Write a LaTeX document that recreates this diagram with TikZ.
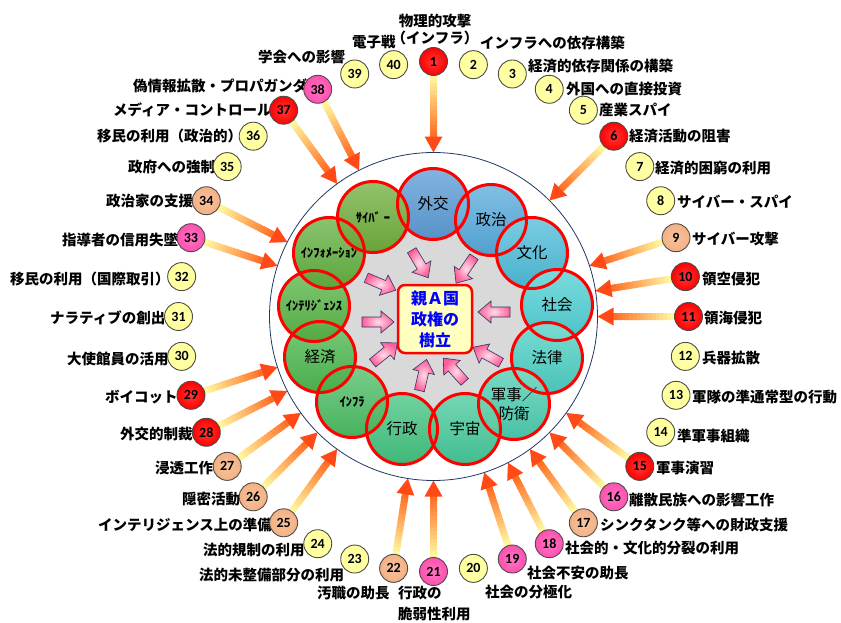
\documentclass[tikz,border=0pt]{standalone}
\usepackage{fontspec}
\setmainfont{Noto Sans CJK JP}
\newfontfamily\numfont{Carlito}
\usetikzlibrary{calc,backgrounds}
\definecolor{navyline}{HTML}{1F3864}
\definecolor{bred}{HTML}{FF0000}
\definecolor{bpink}{HTML}{FF4FB0}
\definecolor{bpeach}{HTML}{F4B183}
\definecolor{byel}{HTML}{FFFF99}
\definecolor{arrY}{HTML}{FFF7A0}
\definecolor{arrO}{HTML}{FF7026}
\definecolor{arrR}{HTML}{FF4A18}
\definecolor{graybg}{HTML}{D9D9D9}
\definecolor{boxfill}{HTML}{FFFFC0}
\definecolor{pinkL}{HTML}{FFDDEA}
\definecolor{pinkD}{HTML}{FF5C98}
\definecolor{pinkline}{HTML}{2E3560}
\definecolor{c0}{HTML}{5B9BD5}
\definecolor{c1}{HTML}{56AADC}
\definecolor{c2}{HTML}{4DBCD8}
\definecolor{c3}{HTML}{4FCFD3}
\definecolor{c4}{HTML}{4DD0C4}
\definecolor{c5}{HTML}{4CCDB0}
\definecolor{c6}{HTML}{46C99A}
\definecolor{c7}{HTML}{43C380}
\definecolor{c8}{HTML}{4CBD63}
\definecolor{c9}{HTML}{4EB84F}
\definecolor{c10}{HTML}{58B546}
\definecolor{c11}{HTML}{62B040}
\definecolor{c12}{HTML}{6FAE3C}
\begin{document}
\begin{tikzpicture}[x=1pt,y=-1pt,
  ballnode/.style={circle, minimum size=28pt, inner sep=0pt, draw=black!70, line width=0.9pt,
    inner color=#1!78!white, outer color=#1, font=\numfont\bfseries\fontsize{14}{14}\selectfont},
  lab/.style={inner sep=0pt, anchor=west, font=\bfseries\fontsize{14.5}{17}\selectfont},
  domcirc/.style={circle, minimum size=71pt, inner sep=0pt, align=center,
    font=\fontsize{15.5}{19}\selectfont},
  pinkarrow/.style={draw=pinkline, line width=0.6pt, inner color=pinkL, outer color=pinkD},
  ringline/.style={red, line width=3pt}
]
\useasboundingbox (0,0) rectangle (841,623);
\coordinate (c) at (433.5,316.5);
\node[circle, draw=navyline, line width=0.8pt, minimum size=328pt, inner sep=0pt] (ring) at (c) {};
\fill[graybg] (433,316) circle[radius=110];

% domain circles
\foreach \j/\x/\y/\txt in {0/433/204/{外交},1/491/220/{政治},2/532/253/{文化},3/557/305/{社会},
  4/547/358/{法律},5/514/404/{軍事／\\防衛},6/465/429/{宇宙},7/402/429/{行政},
  8/352/402/{\bfseries\fontsize{12.5}{13}\selectfont ｲﾝﾌﾗ},9/320/357/{経済},
  10/314/306/{\bfseries\fontsize{12.5}{13}\selectfont ｲﾝﾃﾘｼﾞｪﾝｽ},
  11/329/253/{\bfseries\fontsize{12.5}{13}\selectfont ｲﾝﾌｫﾒｰｼｮﾝ},
  12/373/217/{\bfseries\fontsize{12.5}{13}\selectfont ｻｲﾊﾞ ｰ}}
  \node[domcirc, top color=c\j!75!white, bottom color=c\j!94!black] (d\j) at (\x,\y) {\txt};
\foreach \j in {0,...,12}
  \draw[ringline] (d\j.center) circle[radius=35.5];

% pink block arrows towards the goal
\foreach \x/\y/\r in {420/264/-59, 465/270/-124, 381/284/-23, 378/322/0,
  385/353/39, 423/375/77, 454/370/132, 494/312/180, 487/355/151}
  \shade[pinkarrow, shift={(\x,\y)}, rotate=\r]
    (-16,-5) -- (3,-5) -- (3,-11) -- (16,0) -- (3,11) -- (3,5) -- (-16,5) -- cycle;

\node[draw=red, line width=2.5pt, fill=boxfill, rounded corners=7pt, minimum width=74pt,
  minimum height=68pt, inner sep=0pt, align=center, text=blue,
  font=\bfseries\fontsize{16}{21}\selectfont] (goal) at (435,319) {親Ａ国\\政権の\\樹立};

% labels
\node[lab, anchor=center, align=center] (l1) at (435,30) {物理的攻撃\\（インフラ）};
\node[lab] (l2) at (480,43) {インフラへの依存構築};
\node[lab] (l3) at (528,66) {経済的依存関係の構築};
\node[lab] (l4) at (566,89) {外国への直接投資};
\node[lab] (l5) at (599,110) {産業スパイ};
\node[lab] (l6) at (629,136) {経済活動の阻害};
\node[lab] (l7) at (655,168) {経済的困窮の利用};
\node[lab] (l8) at (677,202) {サイバー・スパイ};
\node[lab] (l9) at (692,239) {サイバー攻撃};
\node[lab] (l10) at (702,279) {領空侵犯};
\node[lab] (l11) at (704,318) {領海侵犯};
\node[lab] (l12) at (702,358) {兵器拡散};
\node[lab] (l13) at (692,397) {軍隊の準通常型の行動};
\node[lab] (l14) at (677,436) {準軍事組織};
\node[lab] (l15) at (656,468) {軍事演習};
\node[lab] (l16) at (629,500) {離散民族への影響工作};
\node[lab] (l17) at (600,525) {シンクタンク等への財政支援};
\node[lab] (l18) at (565,548) {社会的・文化的分裂の利用};
\node[lab] (l19) at (527,573) {社会不安の助長};
\node[lab] (l20) at (485,592) {社会の分極化};
\node[lab, anchor=north west, align=left, font=\bfseries\fontsize{14.5}{21}\selectfont] (l21) at (398,586) {行政の\\脆弱性利用};
\node[lab] (l22) at (317,593) {汚職の助長};
\node[lab] (l23) at (199,575) {法的未整備部分の利用};
\node[lab] (l24) at (203,550) {法的規制の利用};
\node[lab] (l25) at (98,525) {インテリジェンス上の準備};
\node[lab] (l26) at (182,499) {隠密活動};
\node[lab] (l27) at (155,468) {浸透工作};
\node[lab] (l28) at (120,434) {外交的制裁};
\node[lab] (l29) at (105,397) {ボイコット};
\node[lab] (l30) at (67,359) {大使館員の活用};
\node[lab] (l31) at (50,318) {ナラティブの創出};
\node[lab] (l32) at (10,279) {移民の利用（国際取引）};
\node[lab] (l33) at (62,240) {指導者の信用失墜};
\node[lab] (l34) at (106,201) {政治家の支援};
\node[lab] (l35) at (128,167) {政府への強制};
\node[lab] (l36) at (97,136) {移民の利用（政治的）};
\node[lab] (l37) at (113,110) {メディア・コントロール};
\node[lab] (l38) at (133,86) {偽情報拡散・プロパガンダ};
\node[lab] (l39) at (258,57) {学会への影響};
\node[lab] (l40) at (352,42) {電子戦};

% numbered balls
\foreach \k/\col in {1/bred,2/byel,3/byel,4/byel,5/byel,6/bred,7/byel,8/byel,9/bpeach,10/bred,
  11/bred,12/byel,13/byel,14/byel,15/bred,16/bpink,17/bpeach,18/bpink,19/bpink,20/byel,
  21/bpink,22/bpeach,23/byel,24/byel,25/bpeach,26/bpeach,27/bpeach,28/bred,29/bred,30/byel,
  31/byel,32/byel,33/bpink,34/bpeach,35/byel,36/byel,37/bred,38/bpink,39/byel,40/byel}
  \node[ballnode=\col] (b\k) at ($(c)+({-90+(\k-1)*9}:255)$) {\k};

% gradient arrows from balls to the ring
\begin{scope}[on background layer]
\foreach \k in {1,6,9,10,11,15,16,17,18,19,21,22,25,26,27,28,29,33,34,37,38} {
  \foreach \i in {0,...,15} {
    \pgfmathsetmacro\fa{(241-3.8*\i)/255}
    \pgfmathsetmacro\fb{(236.6-3.8*\i)/255}
    \pgfmathtruncatemacro\pc{100*\i/15}
    \draw[line width=7pt, draw=arrO!\pc!arrY] ($(c)!\fa!(b\k)$) -- ($(c)!\fb!(b\k)$);
  }
  \coordinate (hb\k) at ($(c)!{180/255}!(b\k)$);
  \coordinate (ht\k) at ($(c)!{164/255}!(b\k)$);
  \fill[arrR] (ht\k) -- ($(hb\k)!9pt!90:(b\k)$) -- ($(hb\k)!9pt!-90:(b\k)$) -- cycle;
}
\end{scope}
\end{tikzpicture}
\end{document}
